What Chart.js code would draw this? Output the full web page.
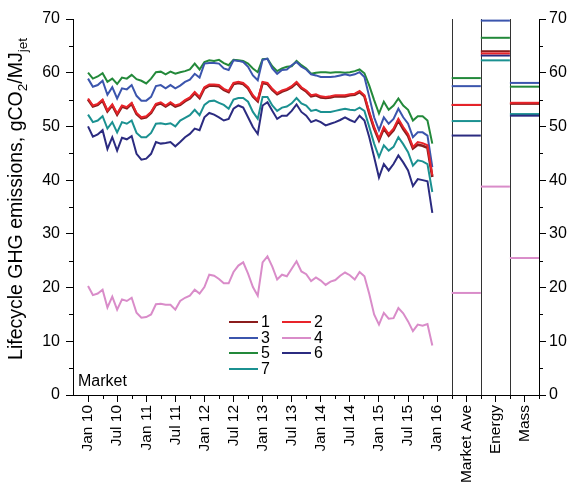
<!DOCTYPE html>
<html>
<head>
<meta charset="utf-8">
<script src="https://cdn.jsdelivr.net/npm/chart.js@4.4.1/dist/chart.umd.min.js"></script>
<style>
  body { margin: 0; background: #fff; }
</style>
</head>
<body>
<canvas id="ghgChart" width="572" height="486"></canvas>
<script>
// month index 0 = Jan 10, last point = Dec 15
const tickLabels = ["Jan 10", "Jul 10", "Jan 11", "Jul 11", "Jan 12", "Jul 12", "Jan 13",
                    "Jul 13", "Jan 14", "Jul 14", "Jan 15", "Jul 15", "Jan 16"];
const panelNames = ["Market Ave", "Energy", "Mass"];
const seriesNames = ["1", "2", "3", "4", "5", "6", "7"];
const seriesColors = ["#8b1c1c", "#e8242a", "#3b55ad", "#d98cc9", "#23893a", "#2b2b80", "#1b9191"];

const s1 = [55.0,53.7,54.0,54.8,52.8,53.9,52.2,53.7,53.4,54.2,52.3,51.5,51.7,52.5,54.0,54.3,53.7,54.3,53.7,
            54.0,54.7,55.2,56.2,55.3,57.1,57.6,57.6,57.5,56.8,56.4,57.9,58.1,57.9,57.1,55.6,54.7,58.1,
            57.9,56.8,56.0,56.5,56.8,57.3,58.1,57.1,56.5,55.6,55.8,55.4,55.3,55.4,55.6,55.6,55.6,55.8,
            55.9,56.4,55.6,52.4,49.6,47.4,49.6,48.3,49.3,51.1,49.5,48.2,45.9,46.6,46.4,46.0,40.6];
const s2 = [55.2,53.9,54.2,55.0,53.0,54.1,52.4,53.9,53.6,54.4,52.5,51.7,51.9,52.7,54.2,54.5,53.9,54.5,53.9,
            54.2,54.9,55.4,56.4,55.5,57.3,57.8,57.8,57.7,57.0,56.6,58.1,58.3,58.1,57.3,55.8,54.9,58.3,
            58.1,57.0,56.2,56.7,57.0,57.5,58.3,57.3,56.7,55.8,56.0,55.6,55.5,55.6,55.8,55.8,55.8,56.0,
            56.1,56.6,55.8,52.7,49.9,47.7,49.9,48.6,49.6,51.4,49.9,48.6,46.2,47.1,46.9,46.5,40.9];
const s3 = [58.9,57.4,57.7,58.5,55.9,57.3,55.2,57.1,56.9,57.7,55.7,54.8,54.8,55.5,57.5,57.7,57.1,57.7,57.1,
            57.6,58.3,58.7,59.8,59.1,61.7,61.8,61.8,61.7,60.8,60.5,62.3,62.2,62.0,61.1,59.5,58.6,62.4,
            62.6,60.8,59.8,60.5,60.6,61.4,62.0,61.1,60.6,59.7,59.5,59.2,59.2,59.2,59.3,59.5,59.7,59.5,
            59.7,60.1,59.2,55.5,51.7,49.3,51.7,50.5,51.4,53.3,51.7,50.5,48.0,48.9,48.9,48.3,42.4];
const s4 = [20.3,18.6,18.9,19.6,16.3,18.3,15.9,17.8,17.5,18.1,15.3,14.4,14.5,15.0,16.9,17.0,16.8,16.8,
            15.9,17.5,18.1,18.5,19.6,18.9,20.1,22.4,22.2,21.6,20.8,20.8,22.9,24.1,24.7,22.6,20.1,18.5,
            24.7,25.8,23.9,21.5,22.4,22.1,23.5,24.9,23.0,22.5,21.2,21.9,21.3,20.5,21.1,21.4,22.2,22.8,
            22.3,21.5,22.9,22.1,18.8,15.0,13.1,15.3,14.2,14.3,16.2,15.2,13.7,11.9,13.1,12.9,13.2,9.2];
const s5 = [60.0,58.9,59.3,59.9,58.3,58.9,57.9,59.1,58.9,59.6,58.8,58.5,58.0,58.9,60.1,60.2,59.7,60.2,59.8,
            60.1,60.3,60.6,61.7,60.6,62.0,62.3,62.2,62.4,61.8,61.4,62.4,62.3,62.2,61.7,60.8,60.1,62.5,
            62.6,61.2,60.3,60.8,61.1,61.2,62.2,61.4,60.8,59.8,60.0,60.1,60.1,60.0,60.1,60.1,60.0,60.1,
            60.3,60.6,59.9,57.6,54.9,52.4,54.6,53.1,53.9,55.2,53.9,53.1,51.1,51.9,51.9,51.1,46.8];
const s6 = [50.0,48.1,48.5,49.3,45.8,48.0,45.5,47.9,47.6,48.2,44.9,43.8,44.0,44.9,47.1,46.8,46.9,47.1,46.3,
            47.1,48.0,48.6,49.6,49.3,51.7,52.5,52.2,51.7,51.1,51.4,53.3,53.9,53.5,51.7,49.9,48.6,53.9,
            54.5,52.9,51.4,52.0,52.0,52.9,54.1,52.7,52.0,50.8,51.2,50.8,50.2,50.5,50.8,51.2,51.7,51.2,
            50.8,52.0,51.1,48.0,44.3,40.5,43.0,41.8,43.0,44.6,43.3,41.8,38.9,40.2,40.0,39.8,33.9];
const s7 = [52.2,50.8,51.1,51.9,49.6,50.8,48.9,50.8,50.5,51.1,48.8,48.0,48.0,48.8,50.5,50.6,50.4,50.6,50.0,
            51.1,51.6,52.1,53.1,52.1,54.0,54.7,54.8,54.4,54.0,53.3,55.0,55.3,55.3,54.6,52.7,51.4,55.5,
            55.5,53.9,52.9,53.5,53.7,54.3,55.3,54.3,53.9,52.9,53.1,52.7,52.7,52.7,52.9,53.1,53.3,53.1,
            53.0,53.5,52.9,49.9,46.8,44.3,46.5,45.5,46.2,48.0,46.7,45.2,42.7,43.7,43.5,43.0,37.8];

// values for series 1..7 in the three side panels
const marketAve = [54.0, 54.0, 57.5, 19.0, 59.0, 48.3, 51.0];
const energy    = [64.0, 63.6, 69.7, 38.8, 66.5, 63.2, 62.3];
const mass      = [54.2, 54.4, 58.1, 25.5, 57.4, 52.0, 52.3];

const allSeries = [s1, s2, s3, s4, s5, s6, s7];
const panelValues = [marketAve, energy, mass];

// x axis layout (in months): main panel up to 75, then three 6-month wide panels
const panelStart = 75, panelWidth = 6;
const fontName = "'Liberation Sans', Arial, sans-serif";

const tickMap = {};
tickLabels.forEach((t, i) => { tickMap[i * 6] = t; });
panelNames.forEach((t, i) => { tickMap[panelStart + panelWidth * i + panelWidth / 2] = t; });
const tickValues = Object.keys(tickMap).map(Number).sort((a, b) => a - b);

const datasets = [];
allSeries.forEach((arr, i) => {
    datasets.push({
        label: seriesNames[i],
        data: arr.map((v, m) => ({ x: m, y: v })),
        borderColor: seriesColors[i],
        borderWidth: i === 0 ? 2.6 : 2,
        order: i === 1 ? 0 : (i === 0 ? 2 : 1)
    });
});
panelValues.forEach((vals, p) => {
    const x0 = panelStart + p * panelWidth;
    vals.forEach((v, i) => {
        datasets.push({
            label: seriesNames[i] + " " + panelNames[p],
            data: [{ x: x0, y: v }, { x: x0 + panelWidth, y: v }],
            borderColor: seriesColors[i],
            borderWidth: 2,
            order: i === 1 ? 0 : (i === 0 ? 2 : 1)
        });
    });
});

function line(ctx, x1, y1, x2, y2) {
    ctx.beginPath(); ctx.moveTo(x1, y1); ctx.lineTo(x2, y2); ctx.stroke();
}

const extras = {
    id: 'extras',
    beforeDatasetsDraw(chart) {
        const { ctx, chartArea, scales } = chart;
        ctx.save();
        ctx.strokeStyle = '#333';
        ctx.lineWidth = 1;
        for (let p = 0; p < 3; p++) {
            const px = Math.round(scales.x.getPixelForValue(panelStart + p * panelWidth)) + 0.5;
            line(ctx, px, chartArea.top, px, chartArea.bottom);
        }
        ctx.restore();
    },
    afterDraw(chart) {
        const { ctx, chartArea, scales } = chart;
        const x = scales.x, y = scales.y;
        ctx.save();
        ctx.strokeStyle = '#000';
        ctx.lineWidth = 1;
        // minor ticks, x
        for (let m = 3; m <= 93; m += 3) {
            if (tickMap[m] !== undefined) continue;
            const px = Math.round(x.getPixelForValue(m)) + 0.5;
            line(ctx, px, chartArea.bottom, px, chartArea.bottom + 4);
        }
        // minor ticks, y (both sides)
        for (let v = 5; v < 70; v += 10) {
            const py = Math.round(y.getPixelForValue(v)) + 0.5;
            line(ctx, chartArea.left - 4, py, chartArea.left, py);
            line(ctx, chartArea.right, py, chartArea.right + 4, py);
        }

        // y axis title with subscripts
        const parts = [["Lifecycle GHG emissions, gCO", false], ["2", true], ["/MJ", false], ["jet", true]];
        const big = "19.5px " + fontName, small = "13.5px " + fontName;
        let total = 0;
        parts.forEach(p => { ctx.font = p[1] ? small : big; total += ctx.measureText(p[0]).width; });
        ctx.translate(17, 199);
        ctx.rotate(-Math.PI / 2);
        ctx.fillStyle = '#000';
        ctx.textBaseline = 'middle';
        ctx.textAlign = 'left';
        let cx = -total / 2;
        parts.forEach(p => {
            ctx.font = p[1] ? small : big;
            ctx.fillText(p[0], cx, p[1] ? 6 : 0);
            cx += ctx.measureText(p[0]).width;
        });
        ctx.restore();

        // "Market" note and legend inside the plot
        ctx.save();
        ctx.fillStyle = '#000';
        ctx.font = "16px " + fontName;
        ctx.textBaseline = 'alphabetic';
        ctx.fillText("Market", 78, 386);
        const legendCols = [[0, 2, 4, 6], [1, 3, 5]];
        const colX = [229, 282];
        const rowY = [322, 338, 353, 369];
        ctx.textBaseline = 'middle';
        ctx.lineWidth = 2;
        legendCols.forEach((col, c) => {
            col.forEach((si, r) => {
                ctx.strokeStyle = seriesColors[si];
                line(ctx, colX[c], rowY[r], colX[c] + 29, rowY[r]);
                ctx.fillText(seriesNames[si], colX[c] + 32, rowY[r] + 1);
            });
        });
        ctx.restore();
    }
};

new Chart(document.getElementById("ghgChart"), {
    type: "line",
    data: { datasets: datasets },
    options: {
        responsive: false,
        animation: false,
        events: [],
        layout: { padding: { top: 19, left: 0, right: 0, bottom: 0 } },
        elements: { point: { radius: 0 }, line: { tension: 0, fill: false } },
        plugins: { legend: { display: false }, tooltip: { enabled: false } },
        scales: {
            x: {
                type: 'linear', min: -3.1, max: 93,
                afterBuildTicks: (scale) => { scale.ticks = tickValues.map(v => ({ value: v })); },
                afterFit: (scale) => { scale.height = 91; },
                ticks: {
                    autoSkip: false, minRotation: 90, maxRotation: 90, padding: 3,
                    color: '#000', font: { family: fontName, size: 15.5 },
                    callback: (v) => tickMap[v]
                },
                grid: { drawOnChartArea: false, tickLength: 7, color: '#000' },
                border: { color: '#000', width: 1 }
            },
            y: {
                position: 'left', min: 0, max: 70,
                afterFit: (scale) => { scale.width = 73; },
                ticks: { stepSize: 10, padding: 6, color: '#000', font: { family: fontName, size: 16 } },
                grid: { drawOnChartArea: false, tickLength: 7, color: '#000' },
                border: { color: '#000', width: 1 }
            },
            y2: {
                position: 'right', min: 0, max: 70,
                afterFit: (scale) => { scale.width = 33; },
                ticks: { stepSize: 10, padding: 3, color: '#000', font: { family: fontName, size: 16 } },
                grid: { drawOnChartArea: false, tickLength: 7, color: '#000' },
                border: { color: '#000', width: 1 }
            }
        }
    },
    plugins: [extras]
});
</script>
</body>
</html>
